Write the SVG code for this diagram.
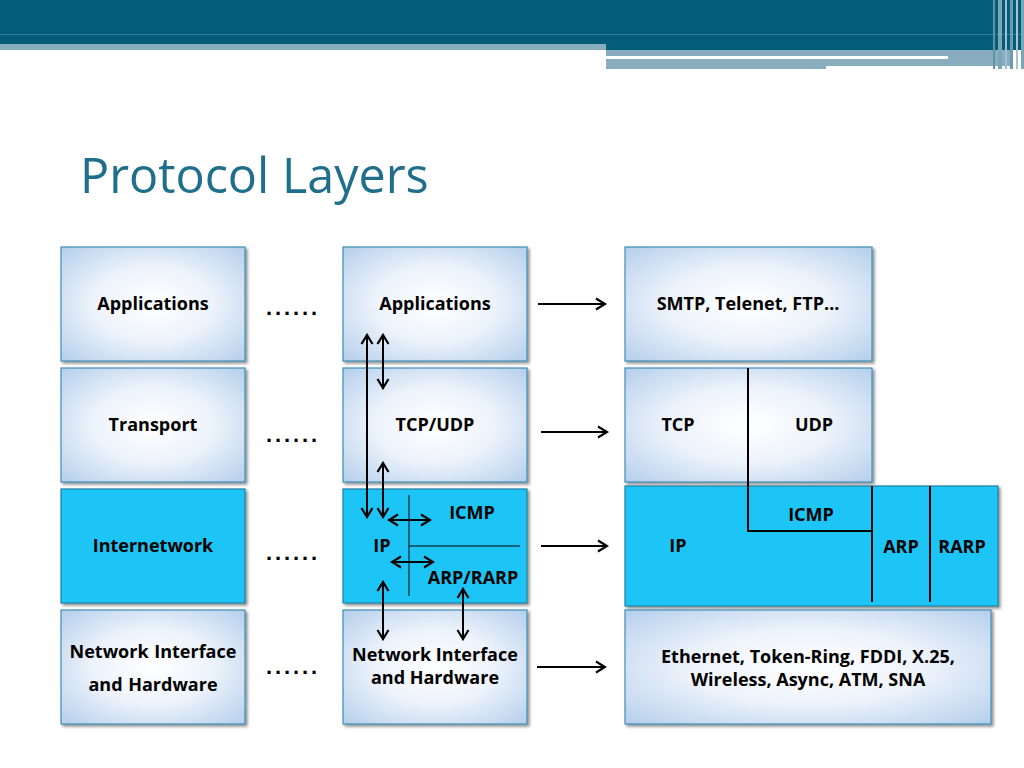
<svg xmlns="http://www.w3.org/2000/svg" width="1024" height="768" viewBox="0 0 1024 768">
<defs>
<style>
.lbl{font-family:"Open Sans","Liberation Sans",sans-serif;font-weight:bold;font-size:18px;fill:#000;text-anchor:middle}
.dots{font-family:"Liberation Sans",sans-serif;font-weight:bold;font-size:22px;fill:#000;letter-spacing:2.9px}
.box{fill:url(#lg);stroke:#3f8db5;stroke-width:1.2;filter:url(#sh)}
.cyan{fill:#1ec5f5;stroke:#1b7fa3;stroke-width:1.2;filter:url(#sh)}
.ln{stroke:#000;stroke-width:2;fill:none}
.thin{stroke:#000;stroke-width:1;fill:none}
.arr{stroke:#000;stroke-width:2;fill:none;marker-end:url(#ah)}
.darr{stroke:#000;stroke-width:2;fill:none;marker-end:url(#ah);marker-start:url(#ah)}
</style>
<radialGradient id="lg" cx="50%" cy="50%" r="72%">
<stop offset="0" stop-color="#ffffff"/>
<stop offset="0.45" stop-color="#edf3fb"/>
<stop offset="1" stop-color="#b2cdeb"/>
</radialGradient>
<filter id="sh" x="-5%" y="-5%" width="115%" height="115%">
<feDropShadow dx="2" dy="2" stdDeviation="1.5" flood-color="#000" flood-opacity="0.45"/>
</filter>
<marker id="ah" markerUnits="userSpaceOnUse" markerWidth="14" markerHeight="14" viewBox="0 0 14 14" refX="12" refY="7" orient="auto-start-reverse">
<path d="M3,1.5 L12,7 L3,12.5" stroke="#000" stroke-width="2.2" fill="none"/>
</marker>
</defs>
<rect width="1024" height="768" fill="#ffffff"/>
<g id="header">
<rect x="0" y="0" width="1024" height="44" fill="#045d78"/>
<rect x="0" y="34" width="1024" height="1" fill="#2a7f99"/>
<rect x="0" y="44" width="606" height="6" fill="#87adbf"/>
<rect x="606" y="44" width="418" height="6" fill="#045d78"/>
<rect x="606" y="50" width="404" height="16" fill="#87adbf"/>
<rect x="606" y="66" width="220" height="3" fill="#87adbf"/>
<rect x="606" y="56" width="342" height="3" fill="#ffffff"/>
<rect x="993" y="0" width="2" height="69" fill="#5f93a8"/>
<rect x="998" y="0" width="4" height="69" fill="#7aa6b8"/>
<rect x="1005" y="0" width="2" height="69" fill="#9fc0cd"/>
<rect x="1010" y="0" width="3" height="69" fill="#6a9bb0"/>
<rect x="1016" y="0" width="2" height="69" fill="#a7c5d1"/>
<rect x="1021" y="0" width="3" height="69" fill="#7aa6b8"/>
</g>
<text id="title" x="80" y="193" font-family="'Open Sans','Liberation Sans',sans-serif" font-size="48.5" fill="#1f6e8c">Protocol Layers</text>
<g id="col1-applications"><rect class="box" x="61" y="247" width="184" height="114"/><text class="lbl" x="153" y="310">Applications</text></g>
<g id="col1-transport"><rect class="box" x="61" y="368" width="184" height="114"/><text class="lbl" x="153" y="431">Transport</text></g>
<g id="col1-internetwork"><rect class="cyan" x="61" y="489" width="184" height="114"/><text class="lbl" x="153" y="552">Internetwork</text></g>
<g id="col1-network"><rect class="box" x="61" y="610" width="184" height="114"/><text class="lbl" x="153" y="658" word-spacing="1">Network Interface</text><text class="lbl" x="153" y="691" word-spacing="1">and Hardware</text></g>
<g id="dots">
<text class="dots" x="266" y="315">......</text>
<text class="dots" x="266" y="442">......</text>
<text class="dots" x="266" y="560">......</text>
<text class="dots" x="266" y="674">......</text>
</g>
<g id="col2-applications"><rect class="box" x="343" y="247" width="184" height="114"/><text class="lbl" x="435" y="310">Applications</text></g>
<g id="col2-tcpudp"><rect class="box" x="343" y="368" width="184" height="114"/><text class="lbl" x="435" y="431">TCP/UDP</text></g>
<g id="col2-internetwork"><rect class="cyan" x="343" y="489" width="184" height="114"/>
<path class="thin" d="M409,495 V596 M409,546 H520"/>
<text class="lbl" x="472" y="519">ICMP</text>
<text class="lbl" x="382" y="552">IP</text>
<text class="lbl" x="473" y="584">ARP/RARP</text></g>
<g id="col2-network"><rect class="box" x="343" y="610" width="184" height="114"/><text class="lbl" x="435" y="661">Network Interface</text><text class="lbl" x="435" y="684">and Hardware</text></g>
<g id="col3-apps"><rect class="box" x="625" y="247" width="247" height="114"/><text class="lbl" x="748" y="310">SMTP, Telenet, FTP…</text></g>
<g id="col3-transport"><rect class="box" x="625" y="368" width="247" height="114"/><text class="lbl" x="678" y="431">TCP</text><text class="lbl" x="814" y="431">UDP</text></g>
<g id="col3-internetwork"><rect class="cyan" x="625" y="486" width="373" height="120"/>
<text class="lbl" x="811" y="521">ICMP</text>
<text class="lbl" x="678" y="552">IP</text>
<text class="lbl" x="901" y="553">ARP</text>
<text class="lbl" x="962" y="553">RARP</text></g>
<g id="col3-dividers">
<path class="ln" d="M748,368 V531 H872"/>
<path class="ln" d="M872,486 V602 M930,486 V602"/>
</g>
<g id="col3-network"><rect class="box" x="625" y="610" width="366" height="114"/><text class="lbl" x="808" y="663">Ethernet, Token-Ring, FDDI, X.25,</text><text class="lbl" x="808" y="686">Wireless, Async, ATM, SNA</text></g>
<g id="connectors">
<line class="darr" x1="367" y1="335" x2="367" y2="517"/>
<line class="darr" x1="383" y1="335" x2="383" y2="388"/>
<line class="darr" x1="383" y1="463" x2="383" y2="517"/>
<line class="darr" x1="389" y1="520" x2="430" y2="520"/>
<line class="darr" x1="392" y1="562" x2="433" y2="562"/>
<line class="darr" x1="383" y1="582" x2="383" y2="639"/>
<line class="darr" x1="463" y1="589" x2="463" y2="639"/>
<line class="arr" x1="538" y1="304" x2="605" y2="304"/>
<line class="arr" x1="541" y1="432" x2="607" y2="432"/>
<line class="arr" x1="541" y1="546" x2="607" y2="546"/>
<line class="arr" x1="537" y1="667" x2="605" y2="667"/>
</g>
</svg>
